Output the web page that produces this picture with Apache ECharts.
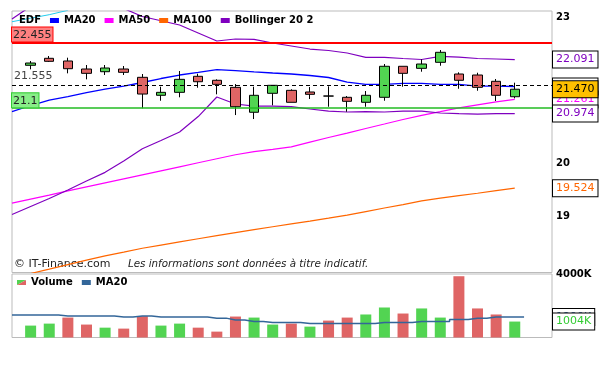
<!DOCTYPE html>
<html><head><meta charset="utf-8">
<script src="https://cdn.jsdelivr.net/npm/echarts@6/dist/echarts.min.js"></script>
<style>html,body{margin:0;padding:0;background:#fff}#c{width:608px;height:366px}</style>
</head><body><div id="c"></div>
<script>
// ---------- data ----------
const categories = ['1','2','3','4','5','6','7','8','9','10','11','12','13','14','15','16','17','18','19','20','21','22','23','24','25','26','27','28','29','30'];
// candles start at index 1: [open, close, low, high]
const candles = [
 [21.969,22.017,21.884,22.060],
 [22.117,22.053,22.040,22.166],
 [22.060,21.897,21.800,22.130],
 [21.891,21.800,21.675,21.975],
 [21.834,21.912,21.765,21.975],
 [21.891,21.821,21.765,21.954],
 [21.717,21.371,21.080,21.786],
 [21.345,21.406,21.234,21.522],
 [21.406,21.675,21.304,21.849],
 [21.738,21.625,21.501,21.792],
 [21.655,21.571,21.365,21.675],
 [21.509,21.112,20.944,21.577],
 [21.000,21.345,20.864,21.522],
 [21.386,21.551,21.141,21.557],
 [21.447,21.202,21.202,21.468],
 [21.413,21.365,21.269,21.515],
 [21.330,21.330,21.112,21.530],
 [21.304,21.222,21.011,21.330],
 [21.202,21.345,21.112,21.433],
 [21.304,21.948,21.234,21.996],
 [21.948,21.800,21.522,21.948],
 [21.905,21.996,21.834,22.096],
 [22.032,22.245,21.960,22.294],
 [21.786,21.655,21.480,21.821],
 [21.765,21.509,21.439,21.813],
 [21.634,21.345,21.228,21.682],
 [21.316,21.470,21.283,21.605]
];
// indicator lines start at index 0
const ma20  = [21.011,21.137,21.248,21.320,21.402,21.474,21.536,21.609,21.692,21.765,21.821,21.880,21.859,21.832,21.807,21.786,21.755,21.713,21.619,21.571,21.571,21.592,21.592,21.571,21.571,21.536,21.536,21.526];
const ma50  = [19.247,19.321,19.395,19.472,19.549,19.624,19.700,19.775,19.851,19.928,20.006,20.083,20.161,20.221,20.266,20.314,20.406,20.497,20.585,20.675,20.764,20.854,20.939,21.013,21.090,21.151,21.210,21.261];
const ma100 = [17.909,17.987,18.064,18.143,18.221,18.296,18.362,18.429,18.486,18.543,18.598,18.653,18.707,18.761,18.814,18.866,18.917,18.971,19.026,19.090,19.155,19.219,19.287,19.339,19.386,19.429,19.479,19.524];
const bollUpper = [22.968,23.25,23.40,23.45,23.40,23.35,23.20,23.023,22.930,22.836,22.661,22.488,22.531,22.524,22.444,22.380,22.315,22.283,22.230,22.138,22.138,22.113,22.092,22.159,22.144,22.113,22.102,22.091];
const bollLower = [19.035,19.182,19.330,19.489,19.658,19.823,20.039,20.277,20.438,20.605,20.914,21.310,21.167,21.126,21.126,21.116,21.066,21.025,21.005,21.015,21.005,21.025,21.025,20.985,20.974,20.964,20.974,20.974];
const cyanLine = [22.908,22.986,23.063,23.16];
// volume (thousands), starts at index 1
const volume = [750,875,1255,815,620,560,1345,750,875,620,370,1320,1255,815,875,685,1065,1255,1450,1890,1510,1830,1255,3860,1830,1450,1004];
const volumeUp = [1,1,0,0,1,0,0,1,1,0,0,0,1,1,0,1,0,0,1,1,0,1,1,0,0,0,1];
const volumeMA20 = [1420,1420,1420,1355,1355,1355,1290,1355,1290,1290,1290,1220,1100,1010,950,950,880,880,880,880,950,950,1010,1010,1140,1220,1290,1290];
// reference levels
const levelHigh = 22.455, levelMid = 21.555, levelLow = 21.1;
// axes
const priceMin = 18.005, priceMax = 23.145;
const priceTicks = [19,20,21,22,23];
const volumeMax = 4000, volumeTicks = [4000];

// ---------- styles ----------
const GREEN = '#52D452', RED = '#DF6565';
const FONT = 'DejaVu Sans';
const N = categories.length;
const pad = (arr, start) => { const out = new Array(N).fill(null); arr.forEach((v,i)=>{ out[start+i] = v; }); return out; };
const last = a => a[a.length-1];

function rightLabel(value, color, bg, unit) {
  return {
    yAxis: value,
    lineStyle: {color: 'rgba(0,0,0,0)', width: 0},
    label: {show: true, position: 'end', distance: 1, formatter: unit ? (value + unit) : value.toFixed(3),
      color: color, backgroundColor: bg || '#fff', borderColor: '#000', borderWidth: 1,
      padding: [2, 3, 1, 3], fontSize: 11, fontFamily: FONT, lineHeight: 13}
  };
}

const candleData = pad(candles, 1).map(v => v === null ? '-' : v);
const volData = pad(volume.map((v,i)=>({value:v, itemStyle:{color: volumeUp[i] ? GREEN : RED}})), 1).map(v => v === null ? '-' : v);

const volIcon = 'image://data:image/svg+xml;charset=utf-8,' + encodeURIComponent(
  '<svg xmlns="http://www.w3.org/2000/svg" width="9" height="5"><polygon points="0,0 9,0 0,5" fill="' + GREEN + '"/><polygon points="9,0 9,5 0,5" fill="' + RED + '"/></svg>');

const lineBase = {type: 'line', showSymbol: false, symbol: 'none', xAxisIndex: 0, yAxisIndex: 0, animation: false, z: 3};

const option = {
  animation: false,
  backgroundColor: '#fff',
  textStyle: {fontFamily: FONT},
  grid: [
    {left: 12, right: 56, top: 11, bottom: 93.5, show: true, borderColor: '#BBBBBB', borderWidth: 1},
    {left: 12, right: 56, top: 274, bottom: 28.5, show: true, borderColor: '#BBBBBB', borderWidth: 1}
  ],
  legend: [
    {left: 0, top: 10.5, itemWidth: 9, itemHeight: 5, itemGap: 9, selectedMode: false,
     textStyle: {fontFamily: FONT, fontWeight: 'bold', fontSize: 10, color: '#000'},
     data: [{name:'EDF', icon:'none'}, {name:'MA20', icon:'rect'}, {name:'MA50', icon:'rect'}, {name:'MA100', icon:'rect'}, {name:'Bollinger 20 2', icon:'rect'}]},
    {left: 12, top: 272.5, itemWidth: 9, itemHeight: 5, itemGap: 9, selectedMode: false,
     textStyle: {fontFamily: FONT, fontWeight: 'bold', fontSize: 10, color: '#000'},
     formatter: n => n.replace(' (Volume)', ''),
     data: [{name:'Volume', icon: volIcon}, {name:'MA20 (Volume)', icon:'rect'}]}
  ],
  xAxis: [
    {type: 'category', gridIndex: 0, data: categories, boundaryGap: false, axisLine: {show: false}, axisTick: {show: false}, axisLabel: {show: false}, splitLine: {show: false}},
    {type: 'category', gridIndex: 1, data: categories, boundaryGap: false, axisLine: {show: false}, axisTick: {show: false}, axisLabel: {show: false}, splitLine: {show: false}}
  ],
  yAxis: [
    {type: 'log', logBase: 10, gridIndex: 0, position: 'right', min: priceMin, max: priceMax,
     axisLine: {show: false}, axisTick: {show: false}, splitLine: {show: false},
     axisLabel: {customValues: priceTicks, formatter: v => String(Math.round(v)), fontWeight: 'bold', fontSize: 10, color: '#000', margin: 4, fontFamily: FONT}},
    {type: 'value', gridIndex: 1, position: 'right', min: 0, max: volumeMax,
     axisLine: {show: false}, axisTick: {show: false}, splitLine: {show: false},
     axisLabel: {customValues: volumeTicks, formatter: v => v + 'K', fontWeight: 'bold', fontSize: 10, color: '#000', margin: 4, fontFamily: FONT}}
  ],
  series: [
    Object.assign({}, lineBase, {name: 'MA100', data: pad(ma100, 0), lineStyle: {color: '#FF6600', width: 1.2}, itemStyle: {color: '#FF6600'}}),
    Object.assign({}, lineBase, {name: 'MA50', data: pad(ma50, 0), lineStyle: {color: '#FF00FF', width: 1.2}, itemStyle: {color: '#FF00FF'}}),
    Object.assign({}, lineBase, {name: 'Bollinger 20 2', data: pad(bollUpper, 0), lineStyle: {color: '#7F00BF', width: 1.2}, itemStyle: {color: '#7F00BF'}}),
    Object.assign({}, lineBase, {name: 'Bollinger 20 2', data: pad(bollLower, 0), lineStyle: {color: '#7F00BF', width: 1.2}, itemStyle: {color: '#7F00BF'}}),
    Object.assign({}, lineBase, {name: 'Upper', data: pad(cyanLine, 0), lineStyle: {color: '#22CCEE', width: 1}, itemStyle: {color: '#22CCEE'}}),
    Object.assign({}, lineBase, {name: 'MA20', data: pad(ma20, 0), lineStyle: {color: '#0000FF', width: 1.3}, itemStyle: {color: '#0000FF'}}),
    {
      name: 'EDF', type: 'candlestick', xAxisIndex: 0, yAxisIndex: 0, data: candleData, barWidth: 10, z: 4,
      itemStyle: {color: GREEN, color0: RED, borderColor: '#000', borderColor0: '#000', borderColorDoji: '#000', borderWidth: 1},
      markLine: {
        silent: true, symbol: ['none', 'none'], animation: false, precision: 3,
        data: [
          {yAxis: levelHigh, lineStyle: {color: '#FF0000', width: 2, type: 'solid'},
           label: {show: true, position: 'insideStartTop', distance: [0, 1], formatter: levelHigh.toFixed(3), color: '#222', backgroundColor: '#FF8080', borderColor: '#FF0000', borderWidth: 1, padding: [1, 1, 0, 1], fontSize: 11, lineHeight: 13, fontFamily: FONT}},
          {yAxis: levelMid, lineStyle: {color: '#000', width: 1, type: [4, 3]},
           label: {show: true, position: 'insideStartTop', distance: [2, 3], formatter: levelMid.toFixed(3), color: '#444', fontSize: 11, fontFamily: FONT}},
          {yAxis: levelLow, lineStyle: {color: '#22BB22', width: 1.5, type: 'solid'},
           label: {show: true, position: 'insideStartTop', distance: [0, 0], formatter: String(levelLow), color: '#222', backgroundColor: '#88EE88', borderColor: '#33CC33', borderWidth: 1, padding: [1, 1, 0, 1], fontSize: 11, lineHeight: 13, fontFamily: FONT}},
          rightLabel(last(ma100), '#FF6600'),
          rightLabel(last(ma20), '#0000FF'),
          rightLabel(last(ma50), '#FF00FF'),
          rightLabel(last(candles)[1], '#000', '#FFC000'),
          rightLabel(last(bollUpper), '#7F00BF'),
          rightLabel(last(bollLower), '#7F00BF')
        ]
      }
    },
    {
      name: 'Volume', type: 'bar', xAxisIndex: 1, yAxisIndex: 1, data: volData, barWidth: 11, itemStyle: {color: GREEN}, z: 2,
      markLine: {
        silent: true, symbol: ['none', 'none'], animation: false,
        data: [
          rightLabel(last(volumeMA20), '#336699', '#fff', 'K'),
          rightLabel(last(volume), '#33CC33', '#fff', 'K')
        ]
      }
    },
    {name: 'MA20 (Volume)', type: 'line', step: 'middle', xAxisIndex: 1, yAxisIndex: 1, showSymbol: false, symbol: 'none', z: 3,
     data: pad(volumeMA20, 0), lineStyle: {color: '#336699', width: 1.5}, itemStyle: {color: '#336699'}}
  ],
  graphic: [
    {type: 'text', left: 14, top: 258.5, style: {text: '\u00A9 IT-Finance.com', font: '11px "DejaVu Sans"', fill: '#222'}},
    {type: 'text', left: 128, top: 259, style: {text: 'Les informations sont données à titre indicatif.', font: 'italic 10.3px "DejaVu Sans"', fill: '#222'}}
  ]
};

const chart = echarts.init(document.getElementById('c'), null, {renderer: 'canvas'});
chart.setOption(option);
</script>
</body></html>
